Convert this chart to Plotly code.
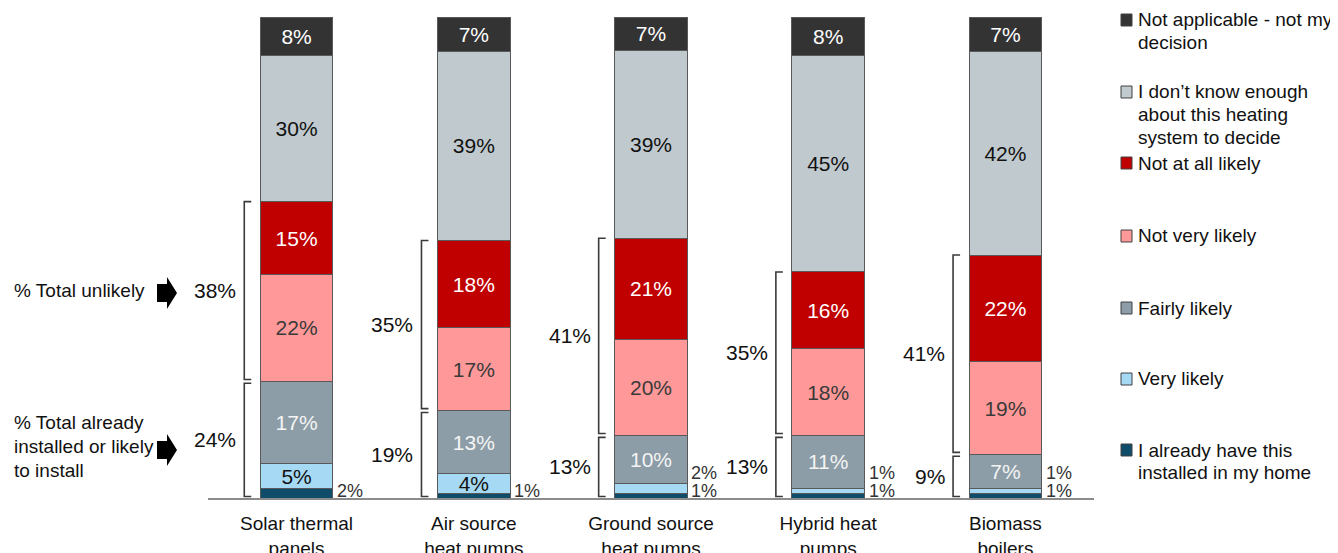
import plotly.graph_objects as go

# ---------------- data ----------------
categories = ["Solar thermal<br>panels", "Air source<br>heat pumps", "Ground source<br>heat pumps",
              "Hybrid heat<br>pumps", "Biomass<br>boilers"]
series_names = ["I already have this<br>installed in my home", "Very likely", "Fairly likely",
                "Not very likely", "Not at all likely",
                "I don’t know enough<br>about this heating<br>system to decide",
                "Not applicable - not my<br>decision"]
already = [2, 1, 1, 1, 1]
very_likely = [5, 4, 2, 1, 1]
fairly_likely = [17, 13, 10, 11, 7]
not_very = [22, 17, 20, 18, 19]
not_at_all = [15, 18, 21, 16, 22]
dont_know = [30, 39, 39, 45, 42]
not_applicable = [8, 7, 7, 8, 7]
total_unlikely = [38, 35, 41, 35, 41]
total_likely = [24, 19, 13, 13, 9]
left_unlikely = ["% Total unlikely"]
left_likely = ["% Total already", "installed or likely", "to install"]

# ---------------- styles ----------------
colors = ["#0E4C6A", "#A6D9F4", "#8C9DA7", "#FF9999", "#C00000", "#BFC9CE", "#333333"]
text_colors = ["#FFFFFF", "#111111", "#F4F4F4", "#3A3A3A", "#FFFFFF", "#111111", "#FFFFFF"]
FONT = "Liberation Sans"
BAR_W = 0.41

stack = [already, very_likely, fairly_likely, not_very, not_at_all, dont_know, not_applicable]
n = len(categories)
xs = list(range(n))
totals = [sum(s[i] for s in stack) for i in range(n)]


def cum(k, i):
    return sum(stack[j][i] for j in range(k)) / totals[i] * 100


fig = go.Figure()
for k, vals in enumerate(stack):
    fig.add_trace(go.Bar(
        x=xs, y=vals, name=series_names[k].replace("<br>", " "),
        width=BAR_W,
        marker=dict(color=colors[k], line=dict(color="#595959", width=1)),
        text=[f"{v}%" if v > 2 else "" for v in vals],
        textposition="inside", insidetextanchor="middle", textangle=0,
        textfont=dict(size=21, color=text_colors[k], family=FONT),
        showlegend=False, hoverinfo="skip",
    ))

# layout geometry (page pixels; the page body has an 8px margin)
OFF = 8
WIDTH, HEIGHT = 1338 - OFF, 553 - OFF
L, T = 208 - OFF, 17 - OFF
PW = 1094 - 208
PH = 498 - 17
R = WIDTH - L - PW
B = HEIGHT - T - PH


def pxx(x):
    return (x - OFF - L) / PW


def pyy(y):
    return (T + PH - (y - OFF)) / PH


shapes = []
annotations = []

# small outside labels
for i in xs:
    slot = 0
    for k in (0, 1):
        v = stack[k][i]
        if v <= 2:
            annotations.append(dict(
                x=i + BAR_W / 2, y=0, xref="x", yref="y", xanchor="left", yanchor="middle",
                xshift=2, yshift=7 + 18 * slot, text=f"{v}%", showarrow=False,
                font=dict(size=18, color="#333333", family=FONT)))
            slot += 1

# brackets
g = 0.4
xb_off = BAR_W / 2 + 16 / (PW / n)
tick = 7 / (PW / n)
for i in xs:
    xb = i - xb_off
    xt = xb + tick
    u_lo, u_hi = cum(3, i) + g, cum(5, i)
    l_lo, l_hi = 0.3, cum(3, i) - g
    for lo, hi, val in ((u_lo, u_hi, total_unlikely[i]), (l_lo, l_hi, total_likely[i])):
        shapes.append(dict(type="path", xref="x", yref="y",
                           path=f"M {xt},{hi} L {xb},{hi} L {xb},{lo} L {xt},{lo}",
                           line=dict(color="#3A3A3A", width=1.6)))
        annotations.append(dict(x=xb, y=(lo + hi) / 2, xref="x", yref="y",
                                xanchor="right", yanchor="middle", xshift=-6,
                                text=f"{val}%", showarrow=False,
                                font=dict(size=21, color="#111111", family=FONT)))

# left texts
annotations.append(dict(x=pxx(12), y=pyy(291), xref="paper", yref="paper", xanchor="left",
                        yanchor="middle", text=left_unlikely[0], showarrow=False,
                        font=dict(size=19, color="#111111", family=FONT)))
for j, line in enumerate(left_likely):
    annotations.append(dict(x=pxx(12), y=pyy(423 + 23.5 * j), xref="paper", yref="paper",
                            xanchor="left", yanchor="middle", text=line, showarrow=False,
                            font=dict(size=19, color="#111111", family=FONT)))

# block arrows
for yc in (293, 450):
    pts = [(157, yc - 9), (167, yc - 9), (167, yc - 16), (177, yc), (167, yc + 16),
           (167, yc + 9), (157, yc + 9)]
    path = "M " + " L ".join(f"{pxx(a):.5f},{pyy(b):.5f}" for a, b in pts) + " Z"
    shapes.append(dict(type="path", xref="paper", yref="paper", path=path,
                       fillcolor="#000000", line=dict(color="#000000", width=0)))

# custom legend (top to bottom)
legend_first_y = [20, 92, 163, 236, 308, 379, 450]
for rank, k in enumerate(range(len(stack) - 1, -1, -1)):
    yc = legend_first_y[rank]
    shapes.append(dict(type="rect", xref="paper", yref="paper",
                       x0=pxx(1121), x1=pxx(1132), y0=pyy(yc + 6), y1=pyy(yc - 6),
                       fillcolor=colors[k], line=dict(color="#404040", width=1)))
    for j, line in enumerate(series_names[k].split("<br>")):
        annotations.append(dict(x=pxx(1136), y=pyy(yc + 22.5 * j), xref="paper", yref="paper",
                                xanchor="left", yanchor="middle", text=line, showarrow=False,
                                font=dict(size=19, color="#111111", family=FONT)))

fig.update_layout(
    width=WIDTH, height=HEIGHT,
    margin=dict(l=L, r=R, t=T, b=B, autoexpand=False),
    barmode="stack", barnorm="percent",
    uniformtext=dict(minsize=21, mode="show"),
    plot_bgcolor="white", paper_bgcolor="white",
    xaxis=dict(tickmode="array", tickvals=xs, ticktext=categories, range=[-0.5, n - 0.5],
               showline=True, linecolor="#8C8C8C", linewidth=2, showgrid=False, zeroline=False,
               tickfont=dict(size=19, color="#111111", family=FONT), ticks="",
               ticklabelstandoff=7, automargin=False),
    yaxis=dict(range=[0, 100], visible=False, automargin=False),
    shapes=shapes, annotations=annotations,
    font=dict(family=FONT),
)

fig.write_html("out.html")
